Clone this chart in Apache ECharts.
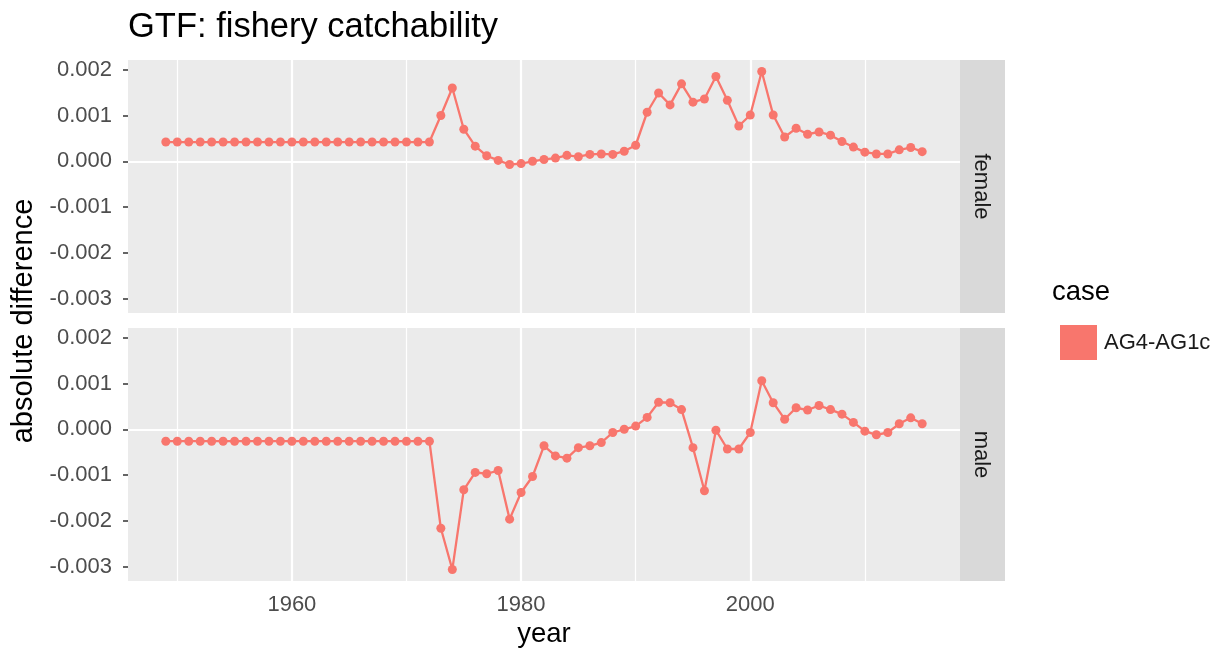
<!DOCTYPE html>
<html>
<head>
<meta charset="utf-8">
<script src="https://cdn.jsdelivr.net/npm/echarts@6/dist/echarts.min.js"></script>
<style>html,body{margin:0;padding:0;background:#fff;}#c{width:1225px;height:658px;}</style>
</head>
<body>
<div id="c"></div>
<script>
const years = [1949,1950,1951,1952,1953,1954,1955,1956,1957,1958,1959,1960,1961,1962,1963,1964,1965,1966,1967,1968,1969,1970,1971,1972,
1973,1974,1975,1976,1977,1978,1979,1980,1981,1982,1983,1984,1985,1986,1987,1988,1989,1990,1991,1992,1993,1994,1995,1996,1997,1998,1999,
2000,2001,2002,2003,2004,2005,2006,2007,2008,2009,2010,2011,2012,2013,2014,2015];

const female = [0.00042,0.00042,0.00042,0.00042,0.00042,0.00042,0.00042,0.00042,0.00042,0.00042,0.00042,0.00042,
0.00042,0.00042,0.00042,0.00042,0.00042,0.00042,0.00042,0.00042,0.00042,0.00042,0.00042,0.00042,
0.00100,0.00160,0.00070,0.00033,0.00012,0.00002,-0.00007,-0.00005,0.00000,0.00004,0.00007,0.00013,0.00010,0.00015,0.00016,0.00015,0.00022,0.00035,
0.00107,0.00149,0.00123,0.00169,0.00129,0.00136,0.00185,0.00133,0.00077,0.00101,0.00196,0.00101,0.00053,0.00072,0.00059,0.00064,0.00057,0.00043,
0.00031,0.00020,0.00016,0.00016,0.00025,0.00030,0.00021];

const male = [-0.00026,-0.00026,-0.00026,-0.00026,-0.00026,-0.00026,-0.00026,-0.00026,-0.00026,-0.00026,-0.00026,-0.00026,
-0.00026,-0.00026,-0.00026,-0.00026,-0.00026,-0.00026,-0.00026,-0.00026,-0.00026,-0.00026,-0.00026,-0.00026,
-0.00216,-0.00306,-0.00132,-0.00094,-0.00097,-0.00090,-0.00196,-0.00138,-0.00103,-0.00036,-0.00058,-0.00063,-0.00040,-0.00036,-0.00029,-0.00007,0.00000,0.00007,
0.00026,0.00059,0.00058,0.00043,-0.00040,-0.00134,-0.00002,-0.00043,-0.00043,-0.00007,0.00106,0.00058,0.00022,0.00047,0.00042,0.00052,0.00043,0.00033,
0.00015,-0.00004,-0.00012,-0.00007,0.00012,0.00025,0.00012];

const xMajor = [1960, 1980, 2000];
const xMinor = [1950, 1970, 1990, 2010];
const yMajor = [-0.003, -0.002, -0.001, 0, 0.001, 0.002];
const yMinor = [-0.0025, -0.0015, -0.0005, 0.0005, 0.0015];
const panels = ['female', 'male'];
const caseName = 'AG4-AG1c';

const FONT = 'Liberation Sans, Arial, Helvetica, sans-serif';
const COL = '#F8766D';
const X_MIN = 1945.7, X_MAX = 2018.3;
const Y_MIN = -0.00331, Y_MAX = 0.00221;

const gridDefs = [{top: 60, height: 253}, {top: 328, height: 253}];

const grids = gridDefs.map(g => ({
  left: 128, right: 265, top: g.top, height: g.height,
  show: true, backgroundColor: '#EBEBEB', borderWidth: 0, containLabel: false
}));

const xAxes = gridDefs.map((g, i) => ({
  type: 'value', gridIndex: i, min: X_MIN, max: X_MAX,
  axisLine: {show: false},
  axisTick: {show: i === 1, customValues: xMajor, length: 5, lineStyle: {color: '#333333', width: 1.5}},
  axisLabel: {show: i === 1, customValues: xMajor, margin: 13, color: '#4D4D4D', fontSize: 22, fontFamily: FONT,
    formatter: v => String(v)},
  splitLine: {show: false}
}));

const yAxes = gridDefs.map((g, i) => ({
  type: 'value', gridIndex: i, min: Y_MIN, max: Y_MAX,
  axisLine: {show: false},
  axisTick: {show: true, customValues: yMajor, length: 5, lineStyle: {color: '#333333', width: 1.5}},
  axisLabel: {customValues: yMajor, margin: 16, color: '#4D4D4D', fontSize: 22, fontFamily: FONT,
    formatter: v => (Math.abs(v) < 1e-12 ? 0 : v).toFixed(3)},
  splitLine: {show: false}
}));

function gridLines(i) {
  const d = [];
  xMinor.forEach(v => d.push({xAxis: v, lineStyle: {color: '#FFFFFF', width: 1.2, type: 'solid'}}));
  yMinor.forEach(v => d.push({yAxis: v, lineStyle: {color: '#FFFFFF', width: 1.2, type: 'solid'}}));
  xMajor.forEach(v => d.push({xAxis: v, lineStyle: {color: '#FFFFFF', width: 2.2, type: 'solid'}}));
  yMajor.forEach(v => d.push({yAxis: v, lineStyle: {color: '#FFFFFF', width: 2.2, type: 'solid'}}));
  return {
    type: 'line', xAxisIndex: i, yAxisIndex: i, data: [[years[0], 0]],
    symbol: 'none', lineStyle: {opacity: 0}, silent: true, z: 0,
    markLine: {silent: true, symbol: ['none', 'none'], label: {show: false}, animation: false, data: d}
  };
}

const dataSeries = [female, male].map((arr, i) => ({
  name: caseName, type: 'line', xAxisIndex: i, yAxisIndex: i,
  data: years.map((y, k) => [y, arr[k]]),
  symbol: 'circle', symbolSize: 9, showAllSymbol: true,
  lineStyle: {color: COL, width: 2.3},
  itemStyle: {color: COL},
  z: 5
}));

const graphics = [
  {type: 'text', x: 128, y: 27, style: {text: 'GTF: fishery catchability', fontSize: 34.5, fontFamily: FONT, fill: '#000', align: 'left', verticalAlign: 'middle'}},
  {type: 'text', x: 544, y: 634, style: {text: 'year', fontSize: 27.5, fontFamily: FONT, fill: '#000', align: 'center', verticalAlign: 'middle'}},
  {type: 'text', x: 24, y: 321, rotation: Math.PI / 2, style: {text: 'absolute difference', fontSize: 29, fontFamily: FONT, fill: '#000', align: 'center', verticalAlign: 'middle'}},
  {type: 'text', x: 1052, y: 292, style: {text: 'case', fontSize: 27.5, fontFamily: FONT, fill: '#000', align: 'left', verticalAlign: 'middle'}}
];
gridDefs.forEach((g, i) => {
  graphics.push({type: 'rect', shape: {x: 960, y: g.top, width: 45, height: g.height}, style: {fill: '#D9D9D9'}, silent: true});
  graphics.push({type: 'text', x: 981, y: g.top + g.height / 2, rotation: -Math.PI / 2,
    style: {text: panels[i], fontSize: 22, fontFamily: FONT, fill: '#1A1A1A', align: 'center', verticalAlign: 'middle'}});
});

const chart = echarts.init(document.getElementById('c'), null, {renderer: 'canvas'});
chart.setOption({
  animation: false,
  backgroundColor: '#FFFFFF',
  grid: grids,
  xAxis: xAxes,
  yAxis: yAxes,
  legend: {
    data: [caseName], left: 1055, top: 320, orient: 'vertical',
    icon: 'rect', itemWidth: 37, itemHeight: 35, itemGap: 6,
    textStyle: {fontSize: 22, fontFamily: FONT, color: '#1A1A1A', padding: [0, 0, 0, 2]},
    selectedMode: false
  },
  graphic: graphics,
  series: [gridLines(0), gridLines(1)].concat(dataSeries)
});
</script>
</body>
</html>
